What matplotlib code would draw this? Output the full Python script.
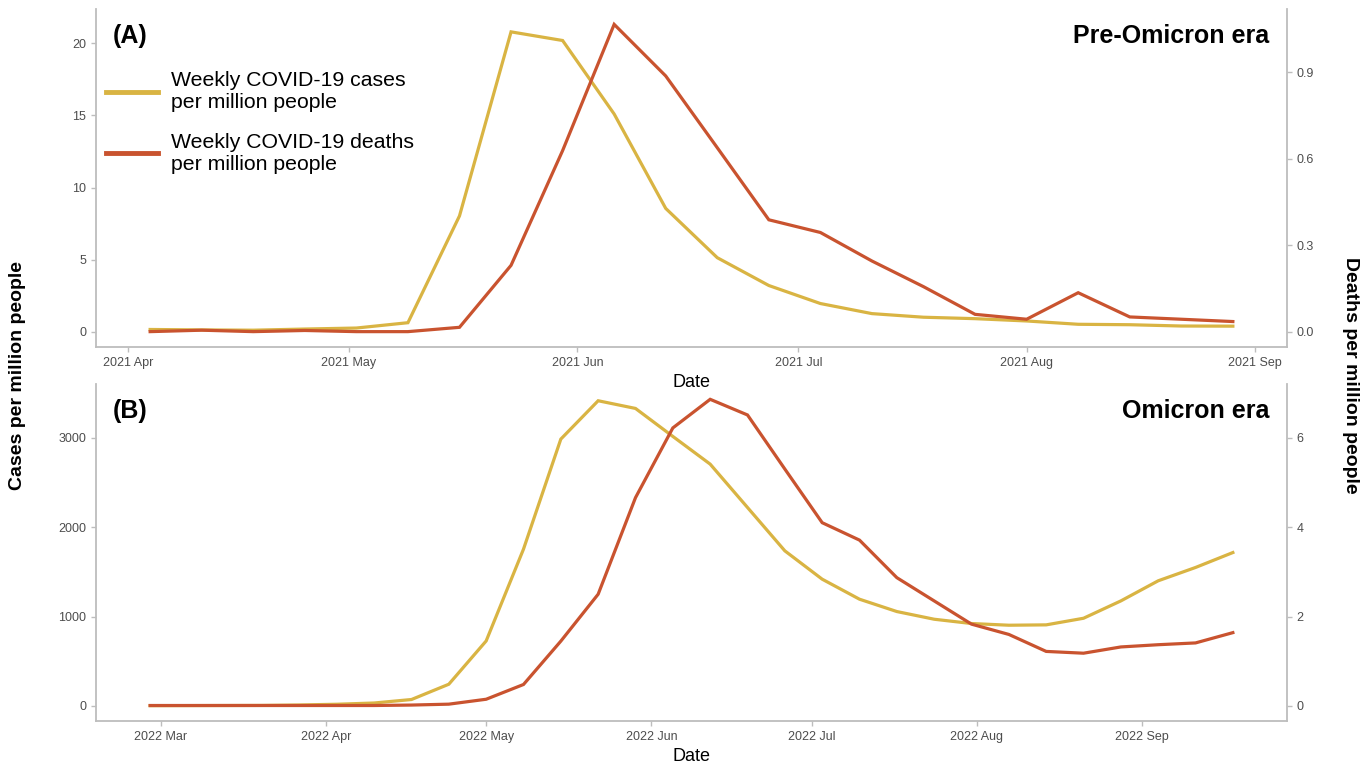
import numpy as np
import pandas as pd
import matplotlib
matplotlib.use("Agg")
import matplotlib.pyplot as plt
import matplotlib.dates as mdates
from matplotlib.ticker import FormatStrFormatter
from matplotlib.lines import Line2D

plt.rcParams["font.family"] = ["Liberation Sans", "DejaVu Sans"]

# weekly data, pre-Omicron era
dates_a = pd.date_range("2021-04-04", periods=22, freq="7D")
cases_a = [0.15, 0.12, 0.1, 0.18, 0.25, 0.62, 8.03, 20.8, 20.2, 15.1, 8.55,
           5.13, 3.2, 1.95, 1.25, 1.0, 0.9, 0.74, 0.51, 0.48, 0.39, 0.38]
deaths_a = [0.0, 0.005, 0.0, 0.004, 0.0, 0.0, 0.015, 0.23, 0.628, 1.066, 0.887,
            0.638, 0.388, 0.344, 0.245, 0.156, 0.06, 0.043, 0.135, 0.051, 0.043, 0.035]

# weekly data, Omicron era
dates_b = pd.date_range("2022-02-27", periods=30, freq="7D")
cases_b = [3, 4, 5, 6, 11, 19, 33, 72, 243, 727, 1754, 2985, 3414, 3328, 3015,
           2705, 2220, 1735, 1418, 1194, 1056, 970, 922, 903, 907, 981, 1175,
           1400, 1549, 1716]
deaths_b = [0.01, 0.01, 0.01, 0.01, 0.01, 0.01, 0.01, 0.02, 0.04, 0.15, 0.48,
            1.45, 2.50, 4.66, 6.22, 6.86, 6.51, 5.3, 4.10, 3.71, 2.87, 2.35,
            1.83, 1.60, 1.22, 1.18, 1.32, 1.37, 1.41, 1.64]

CASE_COL = "#D9B443"
DEATH_COL = "#C9532F"
GREY = "#BDBDBD"
TXT = "#4D4D4D"

W, H = 1369, 767
fig = plt.figure(figsize=(W / 100, H / 100), dpi=100)


def panel(box, dates, cases, deaths, factor, lticks, rticks, rfmt, tag, era):
    l, t, r, b = box
    ax = fig.add_axes([l / W, 1 - b / H, (r - l) / W, (b - t) / H])
    ax.set_facecolor("none")
    ax2 = ax.twinx()

    hi = max(max(cases), max(deaths) * factor)
    lo = min(min(cases), min(deaths) * factor)
    pad = 0.05 * (hi - lo)
    ax.set_ylim(lo - pad, hi + pad)
    ax2.set_ylim((lo - pad) / factor, (hi + pad) / factor)

    span = dates[-1] - dates[0]
    ax.set_xlim(dates[0] - span * 0.05, dates[-1] + span * 0.05)

    ax.plot(dates, cases, color=CASE_COL, lw=2.3, solid_joinstyle="miter")
    ax2.plot(dates, deaths, color=DEATH_COL, lw=2.3, solid_joinstyle="miter")

    ax.xaxis.set_major_locator(mdates.MonthLocator())
    ax.xaxis.set_major_formatter(mdates.DateFormatter("%Y %b"))
    ax.set_yticks(lticks)
    ax2.set_yticks(rticks)
    ax2.yaxis.set_major_formatter(FormatStrFormatter(rfmt))

    for a in (ax, ax2):
        a.spines["top"].set_visible(False)
        for s in a.spines.values():
            s.set_color(GREY)
            s.set_linewidth(1.3)
        a.tick_params(colors=GREY, labelcolor=TXT, labelsize=9, length=3.5, width=1)
    ax.spines["right"].set_visible(False)
    ax2.spines["left"].set_visible(False)
    ax2.spines["bottom"].set_visible(False)

    ax.set_xlabel("Date", fontsize=13, color="black", labelpad=4)
    ax.text(0.014, 0.92, tag, transform=ax.transAxes, fontsize=18,
            fontweight="bold", va="center", ha="left")
    ax.text(0.985, 0.92, era, transform=ax.transAxes, fontsize=18,
            fontweight="bold", va="center", ha="right")
    return ax


ax_a = panel((96, 9, 1287, 347), dates_a, cases_a, deaths_a, 20,
             [0, 5, 10, 15, 20], [0, 0.3, 0.6, 0.9], "%.1f",
             "(A)", "Pre-Omicron era")
ax_b = panel((96, 384, 1287, 721), dates_b, cases_b, deaths_b, 500,
             [0, 1000, 2000, 3000], [0, 2, 4, 6], "%d",
             "(B)", "Omicron era")

handles = [Line2D([], [], color=CASE_COL, lw=3.5),
           Line2D([], [], color=DEATH_COL, lw=3.5)]
labels = ["Weekly COVID-19 cases\nper million people",
          "Weekly COVID-19 deaths\nper million people"]
ax_a.legend(handles, labels, loc="upper left", bbox_to_anchor=(-0.008, 0.872),
            frameon=False, fontsize=15.3, handlelength=2.45, handletextpad=0.65,
            labelspacing=0.95)

fig.text(18 / W, 1 - 375 / H, "Cases per million people", rotation=90,
         fontsize=14, fontweight="bold", ha="center", va="center")
fig.text(1350 / W, 1 - 375 / H, "Deaths per million people", rotation=270,
         fontsize=14, fontweight="bold", ha="center", va="center")

fig.savefig("out.png", dpi=100)
